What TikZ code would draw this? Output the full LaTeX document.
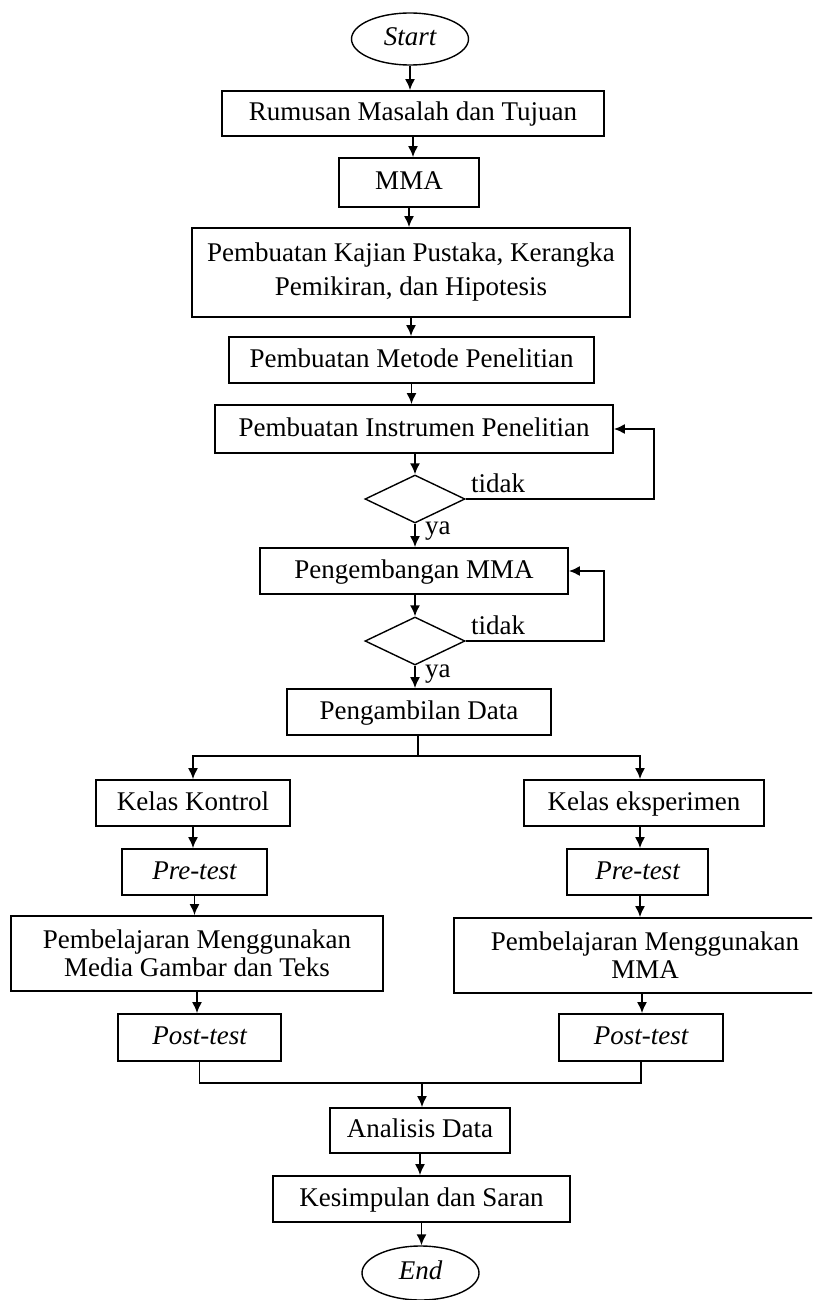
\documentclass[tikz,border=0pt]{standalone}
\usepackage{fontspec}
\setmainfont{Liberation Serif}
\usetikzlibrary{shapes.geometric,arrows.meta}
\tikzset{
  box/.style={draw, line width=1.8pt, inner sep=0pt, align=center, font=\fontsize{27}{33}\selectfont},
  sbox/.style={box, text height=20pt, text depth=6pt},
  term/.style={ellipse, draw, line width=1.4pt, inner sep=0pt, minimum width=117pt, minimum height=52pt, font=\fontsize{27}{33}\selectfont\itshape, text height=19pt, text depth=6pt},
  dec/.style={diamond, draw, line width=1.4pt, inner sep=0pt, minimum width=100pt, minimum height=48pt},
  arr/.style={line width=1.6pt, -{Latex[length=11pt,width=10pt]}},
  ln/.style={line width=1.6pt},
  lbl/.style={font=\fontsize{27}{33}\selectfont, inner sep=0pt, anchor=west}
}
\begin{document}
\begin{tikzpicture}[x=1pt,y=-1pt]
\useasboundingbox (0,0) rectangle (812,1300);
\clip (0,0) rectangle (812,1300);
\node[term] (start) at (410,39) {Start};
\node[sbox, minimum width=382pt, minimum height=45pt] (rumusan) at (413,113.5) {Rumusan Masalah dan Tujuan};
\node[sbox, minimum width=140pt, minimum height=49pt] (mma) at (409,182.5) {MMA};
\node[box, minimum width=438pt, minimum height=89pt, font=\fontsize{27}{34}\selectfont] (kajian) at (411,272.5) {Pembuatan Kajian Pustaka, Kerangka\\Pemikiran, dan Hipotesis\vphantom{y}};
\node[sbox, minimum width=365pt, minimum height=46pt] (metode) at (411.5,360) {Pembuatan Metode Penelitian};
\node[sbox, minimum width=398pt, minimum height=48pt] (instrumen) at (414,429) {Pembuatan Instrumen Penelitian};
\node[dec] (dec1) at (415,499) {};
\node[sbox, minimum width=308pt, minimum height=46pt] (pengembangan) at (414,571) {Pengembangan MMA};
\node[dec] (dec2) at (415,641) {};
\node[sbox, minimum width=264pt, minimum height=46pt] (pengambilan) at (419,712) {Pengambilan Data};
\node[sbox, minimum width=194pt, minimum height=46pt] (kontrol) at (193,803) {Kelas Kontrol};
\node[sbox, minimum width=240pt, minimum height=46pt] (eksperimen) at (644,803) {Kelas eksperimen};
\node[sbox, minimum width=145pt, minimum height=46pt] (pre1) at (194.5,872) {\itshape Pre-test};
\node[sbox, minimum width=141pt, minimum height=46pt] (pre2) at (637.5,872) {\itshape Pre-test};
\node[box, minimum width=372pt, minimum height=75pt, font=\fontsize{27}{28}\selectfont] (pemb1) at (197,953.5) {Pembelajaran Menggunakan\\Media Gambar dan Teks};
\node[box, minimum width=382pt, minimum height=75pt, font=\fontsize{27}{28}\selectfont] (pemb2) at (645,955.5) {Pembelajaran Menggunakan\\MMA};
\node[sbox, minimum width=163pt, minimum height=47pt] (post1) at (199.5,1037.5) {\itshape Post-test};
\node[sbox, minimum width=164pt, minimum height=47pt] (post2) at (641,1037.5) {\itshape Post-test};
\node[sbox, minimum width=180pt, minimum height=45pt] (analisis) at (420,1130.5) {Analisis Data};
\node[sbox, minimum width=297pt, minimum height=46pt] (kesimpulan) at (421.5,1199) {Kesimpulan dan Saran};
\node[term, minimum height=54pt] (finish) at (420.5,1273) {End};
% labels
\node[lbl] (t1) at (471,483) {tidak};
\node[lbl] (y1) at (425,531) {ya};
\node[lbl] (t2) at (471,625) {tidak};
\node[lbl] (y2) at (425,674) {ya};
% coordinates
\coordinate (split) at (418,756);
\coordinate (merge) at (422,1083);
\coordinate (colR) at (640,0);
% main column
\draw[arr] (start.south) -- (start.south |- rumusan.north);
\draw[arr] (rumusan.south) -- (rumusan.south |- mma.north);
\draw[arr] (mma.south) -- (mma.south |- kajian.north);
\draw[arr] (kajian.south) -- (kajian.south |- metode.north);
\draw[arr] (metode.south) -- (metode.south |- instrumen.north);
\draw[arr] (instrumen.south -| dec1.north) -- (dec1.north);
\draw[arr] (dec1.south) -- (dec1.south |- pengembangan.north);
\draw[arr] (pengembangan.south -| dec2.north) -- (dec2.north);
\draw[arr] (dec2.south) -- (dec2.south |- pengambilan.north);
% loops
\draw[arr] (dec1.east) -- ++(188,0) |- (instrumen.east);
\draw[arr] (dec2.east) -- ++(138,0) |- (pengembangan.east);
% split
\draw[ln] (pengambilan.south -| split) -- (split);
\draw[arr] (split) -| (kontrol.north);
\draw[arr] (split) -| (colR |- eksperimen.north);
% left column
\draw[arr] (kontrol.south) -- (kontrol.south |- pre1.north);
\draw[arr] (pre1.south) -- (pre1.south |- pemb1.north);
\draw[arr] (pemb1.south) -- (pemb1.south |- post1.north);
% right column
\draw[arr] (colR |- eksperimen.south) -- (colR |- pre2.north);
\draw[arr] (colR |- pre2.south) -- (colR |- pemb2.north);
\draw[arr] ([xshift=2pt]colR |- pemb2.south) -- ([xshift=2pt]colR |- post2.north);
% merge
\draw[ln] (post1.south) |- (merge);
\draw[ln] (post2.south) |- (merge);
\draw[arr] (merge) -- (merge |- analisis.north);
\draw[arr] (analisis.south) -- (analisis.south |- kesimpulan.north);
\draw[arr] (kesimpulan.south) -- (kesimpulan.south |- finish.north);
\end{tikzpicture}
\end{document}
